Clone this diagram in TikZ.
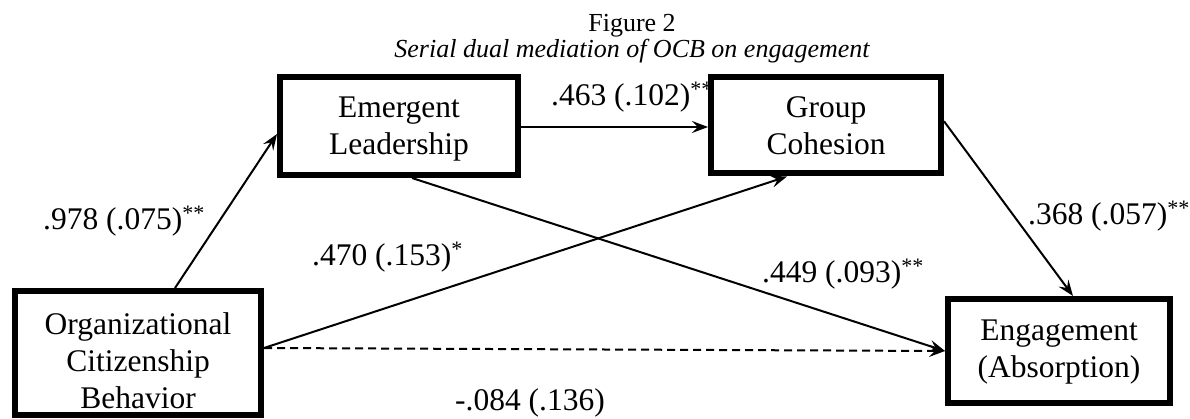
\documentclass[tikz,border=0pt]{standalone}
\usepackage{fontspec}
\setmainfont{Liberation Serif}
\usetikzlibrary{arrows.meta}
\begin{document}
\begin{tikzpicture}[x=1pt,y=-1pt,
  box/.style={draw, line width=6pt, rectangle, inner sep=0pt, align=center,
    font=\fontsize{31.5}{37}\selectfont, text depth=0pt},
  arr/.style={line width=2pt, -{Stealth[length=16pt,width=12pt,inset=6pt]}},
  lab/.style={anchor=base west, inner sep=0pt, font=\fontsize{31.5}{37}\selectfont},
  ttl/.style={anchor=base, inner sep=0pt, font=\fontsize{26}{30}\selectfont}]
\useasboundingbox (0,0) rectangle (1190,419);
% titles
\node[ttl] (t1) at (632,32) {Figure 2};
\node[ttl] (t2) at (632,58) {\itshape Serial dual mediation of OCB on engagement};
% boxes
\node[box, minimum width=238pt, minimum height=98pt, text height=58pt] (el) at (399,126) {Emergent\\Leadership};
\node[box, minimum width=230pt, minimum height=96.5pt, text height=59.5pt] (gc) at (826,125.25) {Group\\Cohesion};
\node[box, minimum width=246pt, minimum height=124pt, text height=110pt] (ocb) at (138,353) {Organizational\\Citizenship\\Behavior};
\node[box, minimum width=222pt, minimum height=104pt, text height=52pt] (eng) at (1059,351) {Engagement\\(Absorption)};
% connectors
\draw[arr] ([xshift=37pt]ocb.north) -- ([yshift=-8pt]el.west);
\draw[arr] ([yshift=-1pt]el.east) -- ([yshift=-1pt]el.east -| gc.west);
\draw[arr] ([xshift=13pt]el.south) -- (eng.west);
\draw[arr] ([yshift=5pt]ocb.east) -- ([xshift=-39pt]gc.south);
\draw[arr, dash pattern=on 8pt off 5pt] ([yshift=5pt]ocb.east) -- (eng.west);
\draw[arr] ([yshift=4pt]gc.east) -- ([xshift=14pt]eng.north);
% labels
\node[lab] (l1) at (43,230) {.978 (.075)\textsuperscript{**}};
\node[lab] (l2) at (551,106) {.463 (.102)\textsuperscript{**}};
\node[lab] (l3) at (312,266) {.470 (.153)\textsuperscript{*}};
\node[lab] (l4) at (1028,225) {.368 (.057)\textsuperscript{**}};
\node[lab] (l5) at (762,283) {.449 (.093)\textsuperscript{**}};
\node[lab] (l6) at (455,410) {-.084 (.136)};
\end{tikzpicture}
\end{document}
